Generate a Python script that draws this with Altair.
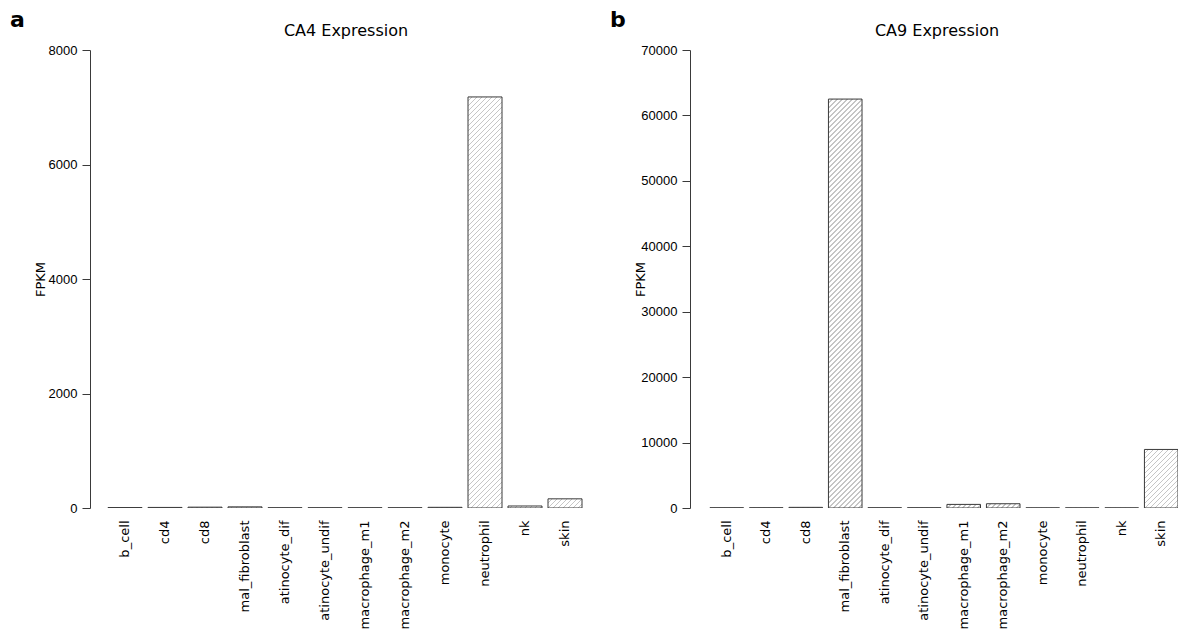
import altair as alt
import pandas as pd

cells = ["b_cell", "cd4", "cd8", "mal_fibroblast", "atinocyte_dif", "atinocyte_undif",
         "macrophage_m1", "macrophage_m2", "monocyte", "neutrophil", "nk", "skin"]
ca4_fpkm = [8, 10, 15, 20, 5, 5, 5, 5, 12, 7180, 35, 160]
ca9_fpkm = [40, 40, 100, 62500, 40, 40, 550, 650, 20, 20, 20, 8950]
ca4_ticks = [0, 2000, 4000, 6000, 8000]
ca9_ticks = [0, 10000, 20000, 30000, 40000, 50000, 60000, 70000]

PLOT_H = 458
DARK = "#3a3a3a"
HATCH_BG = "#ffffff"
HATCH_FG = "#c6c6c6"
HATCH_PERIOD = 5.0   # px, measured along a horizontal line
HATCH_LINE = 0.32    # fraction of period drawn as line


def hatch_gradient(w, h):
    """45-degree '////' hatch as an SVG linear gradient for a w x h pixel rect."""
    h = max(h, 0.5)
    k = (w + h) / (w * w + h * h)
    total = w + h
    per = HATCH_PERIOD / total
    stops = []
    i = 0
    while i * per < 1:
        a = i * per
        b = min(a + per * (1 - HATCH_LINE), 1)
        c = min(a + per, 1)
        stops += [{"offset": a, "color": HATCH_BG}, {"offset": b, "color": HATCH_BG},
                  {"offset": b, "color": HATCH_FG}, {"offset": c, "color": HATCH_FG}]
        i += 1
    return {"gradient": "linear", "x1": 0, "y1": 0,
            "x2": round(k * w, 6), "y2": round(k * h, 6), "stops": stops}


def panel(values, ymax, ticks, title, letter, width, pad_outer, align, title_x):
    df = pd.DataFrame({"cell": cells, "fpkm": values})
    n = len(cells)
    step = width / (n - 0.15 + 2 * pad_outer)
    bw = step * 0.85
    conds = []
    for c, v in zip(cells, values):
        conds.append({"test": f"datum.cell === '{c}'",
                      "value": hatch_gradient(bw, v / ymax * PLOT_H)})
    xscale = alt.Scale(paddingInner=0.15, paddingOuter=pad_outer, align=align)
    bars = alt.Chart(df).mark_bar(
        stroke=DARK, strokeWidth=1, clip=True
    ).encode(
        x=alt.X("cell:N", sort=cells, scale=xscale,
                axis=alt.Axis(title=None, labelAngle=270, domain=False, ticks=False,
                              labelPadding=12, labelFont="DejaVu Sans", labelFontSize=13,
                              labelColor="black", labelAlign="right", labelBaseline="middle")),
        y=alt.Y("fpkm:Q", scale=alt.Scale(domain=[0, ymax], nice=False, zero=True),
                axis=alt.Axis(values=ticks, format="d", grid=False, title="FPKM",
                              domainColor=DARK, tickColor=DARK, tickSize=8,
                              labelFont="Liberation Sans", labelFontSize=13,
                              labelColor="black", labelPadding=5, labelOverlap=False,
                              titleFont="DejaVu Sans", titleFontSize=13,
                              titleFontWeight="normal", titleColor="black",
                              titleAngle=270, titleAlign="center", titleBaseline="middle",
                              titleX=-50, titleY=PLOT_H / 2)),
        fill={"condition": conds, "value": "#e8e8e8"},
    )
    ttl = alt.Chart(pd.DataFrame({"t": [title]})).mark_text(
        font="DejaVu Sans", fontSize=16, align="center", baseline="middle", color="black"
    ).encode(text="t:N", x=alt.value(title_x), y=alt.value(-19))
    let = alt.Chart(pd.DataFrame({"t": [letter]})).mark_text(
        font="DejaVu Sans", fontSize=22, fontWeight="bold", align="left",
        baseline="middle", color="black"
    ).encode(text="t:N", x=alt.value(-80), y=alt.value(-30))
    return alt.layer(bars, ttl, let).properties(width=width, height=PLOT_H)


pa = panel(ca4_fpkm, 8000, ca4_ticks, "CA4 Expression", "a", 510, 0.45, 0.5, 256)
pb = panel(ca9_fpkm, 70000, ca9_ticks, "CA9 Expression", "b", 488, 0.2527, 1.0, 247)

chart = alt.hconcat(pa, pb, spacing=90, bounds="flush").properties(
    padding={"left": 10, "top": 9, "right": 0, "bottom": 0},
    background="white",
).configure_view(strokeWidth=0)

chart.save("out.html", embed_options={"renderer": "svg", "actions": False})
